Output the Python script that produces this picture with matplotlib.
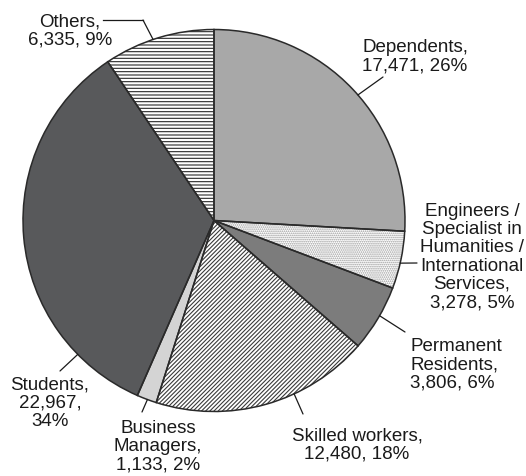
import matplotlib
matplotlib.use('Agg')
import matplotlib.pyplot as plt
from matplotlib.lines import Line2D
import numpy as np

plt.rcParams['font.family'] = ['Liberation Sans', 'DejaVu Sans']
plt.rcParams['hatch.linewidth'] = 0.8

# datos
categorias = ['Dependents', 'Engineers / Specialist in Humanities / International Services',
              'Permanent Residents', 'Skilled workers', 'Business Managers', 'Students', 'Others']
valores = [17471, 3278, 3806, 12480, 1133, 22967, 6335]
etiquetas = ['Dependents,\n17,471, 26%',
             'Engineers /\nSpecialist in\nHumanities /\nInternational\nServices,\n3,278, 5%',
             'Permanent\nResidents,\n3,806, 6%',
             'Skilled workers,\n12,480, 18%',
             'Business\nManagers,\n1,133, 2%',
             'Students,\n22,967,\n34%',
             'Others,\n6,335, 9%']

colores = ['#a8a8a8', 'white', '#7c7c7c', 'white', '#d4d4d4', '#58595b', 'white']
tramas = ['', '........', '', '////////', '', '', '-----']
color_trama = ['#a8a8a8', '#9a9a9a', '#7c7c7c', '#3a3a3a', '#d4d4d4', '#58595b', '#2a2a2a']

W, H = 526, 477
fig = plt.figure(figsize=(W / 100, H / 100), dpi=100)

def fig_pt(x, y):
    # pixeles (origen arriba a la izquierda) -> fraccion de figura
    return x / W, 1 - y / H

cx, cy, r = 214, 221.5, 191
ax = fig.add_axes([(cx - r) / W, 1 - (cy + r) / H, 2 * r / W, 2 * r / H])

# relleno con tramas
cunas, _ = ax.pie(valores, startangle=90, counterclock=False, colors=colores,
                  wedgeprops=dict(linewidth=0))
for c, t, hc in zip(cunas, tramas, color_trama):
    c.set_edgecolor(hc)
    c.set_hatch(t)

# bordes
ax.pie(valores, startangle=90, counterclock=False,
       wedgeprops=dict(fill=False, edgecolor='#2a2a2a', linewidth=1.1))
ax.set_xlim(-1, 1)
ax.set_ylim(-1, 1)
ax.set_aspect('equal')
ax.axis('off')

# posiciones de texto (pixeles) y lineas guia
pos_texto = [(415, 57, 'center'), (472, 257, 'center'), (410, 365, 'left'),
             (357, 445, 'center'), (158, 447, 'center'), (50, 403, 'center'), (70, 31, 'center')]
angulos = [41.1, -12.9, -29.9, -65.2, -110.4, -135.5, 108.6]
fin_linea = [(383, 78), (417, 264), (405, 333), (303, 415), (142, 413), (60, 372), (143, 21)]

for etq, (tx, ty, ha), ang, (lx, ly) in zip(etiquetas, pos_texto, angulos, fin_linea):
    fx, fy = fig_pt(tx, ty)
    fig.text(fx, fy, etq, ha=ha, va='center', fontsize=13.5, color='#1a1a1a',
             linespacing=1.1, multialignment='center' if ha == 'center' else 'left')
    ex, ey = np.cos(np.radians(ang)), np.sin(np.radians(ang))
    ax.annotate('', xy=(ex, ey), xytext=fig_pt(lx, ly), textcoords='figure fraction',
                arrowprops=dict(arrowstyle='-', color='#1a1a1a', lw=0.9,
                                shrinkA=0, shrinkB=0), annotation_clip=False)

# tramo horizontal de Others
x0, y0 = fig_pt(103, 21)
x1, y1 = fig_pt(143, 21)
fig.add_artist(Line2D([x0, x1], [y0, y1], color='#1a1a1a', lw=0.9))

fig.savefig('out.png', dpi=100)
